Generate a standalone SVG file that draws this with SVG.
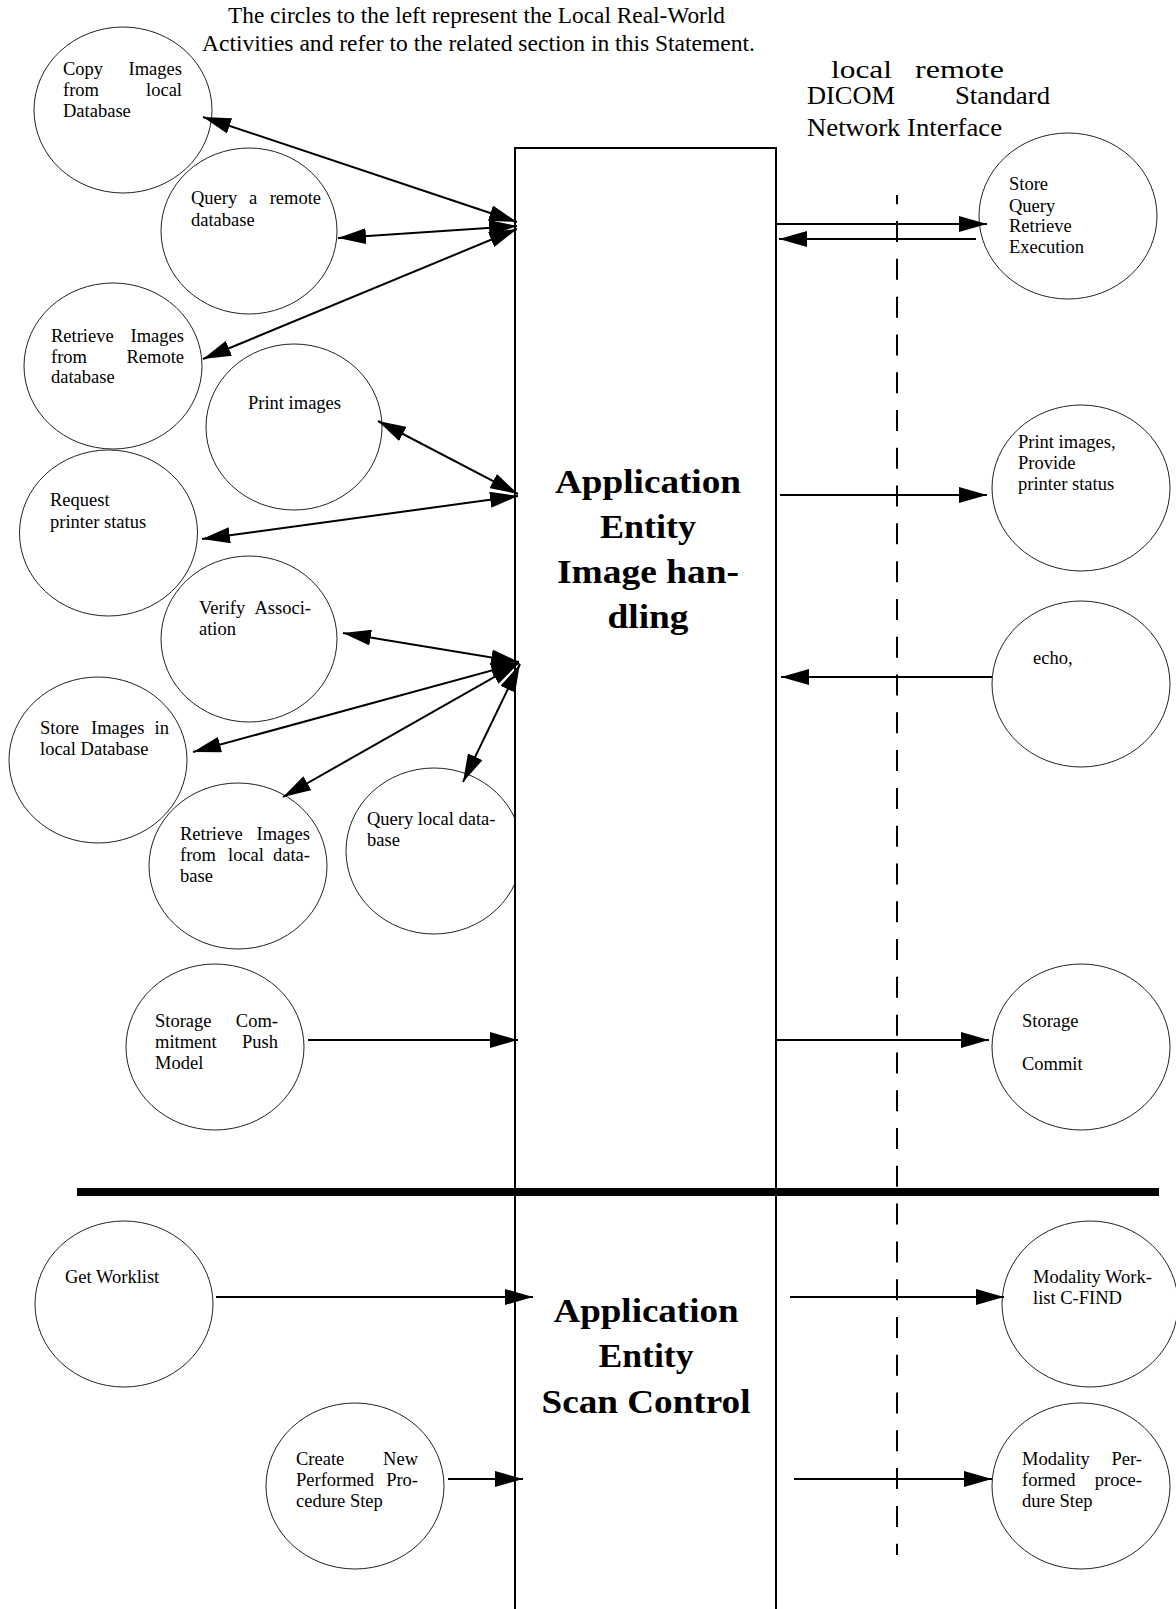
<svg xmlns="http://www.w3.org/2000/svg" width="1176" height="1609" viewBox="0 0 1176 1609">
<defs>
<marker id="ah" viewBox="0 0 28 16" refX="28" refY="8" markerWidth="28" markerHeight="16" markerUnits="userSpaceOnUse" orient="auto-start-reverse"><path d="M0,0 L28,8 L0,16 z" fill="#000"/></marker>
</defs>
<style>
.c{fill:none;stroke:#222;stroke-width:1}
.t{font-family:"Liberation Serif","Times New Roman",serif;font-size:18.5px;fill:#000}
.e{text-anchor:end}
.h{font-family:"Liberation Serif","Times New Roman",serif;font-size:23.5px;fill:#000}
.hb{font-family:"Liberation Serif","Times New Roman",serif;font-size:25px;fill:#000}
.b{font-family:"Liberation Serif","Times New Roman",serif;font-size:33px;font-weight:bold;fill:#000;text-anchor:middle}
.ln{stroke:#000;stroke-width:2;fill:none}
.one{marker-end:url(#ah)}
.bi{marker-start:url(#ah);marker-end:url(#ah)}
</style>
<rect width="1176" height="1609" fill="#fff"/>

<g id="caption">
<text class="h" x="228" y="23" textLength="497" lengthAdjust="spacingAndGlyphs">The circles to the left represent the Local Real-World</text>
<text class="h" x="202" y="51" textLength="553" lengthAdjust="spacingAndGlyphs">Activities and refer to the related section in this Statement.</text>
</g>
<g id="interface-label">
<text class="hb" x="831" y="78" font-size="28" textLength="61" lengthAdjust="spacingAndGlyphs">local</text>
<text class="hb" x="915" y="78" font-size="28" textLength="89" lengthAdjust="spacingAndGlyphs">remote</text>
<text class="hb" x="807" y="104" textLength="88" lengthAdjust="spacingAndGlyphs">DICOM</text>
<text class="hb" x="955" y="104" textLength="95" lengthAdjust="spacingAndGlyphs">Standard</text>
<text class="hb" x="807" y="136" textLength="195" lengthAdjust="spacingAndGlyphs">Network Interface</text>
</g>

<g id="n-copy"><ellipse class="c" cx="123" cy="110" rx="89" ry="83"/>
<text class="t" x="63" y="75">Copy</text><text class="t e" x="182" y="75">Images</text>
<text class="t" x="63" y="96">from</text><text class="t e" x="182" y="96">local</text>
<text class="t" x="63" y="117">Database</text></g>

<g id="n-query-remote"><ellipse class="c" cx="249" cy="231" rx="88" ry="83"/>
<text class="t" x="191" y="204">Query</text><text class="t" x="249" y="204">a</text><text class="t e" x="321" y="204">remote</text>
<text class="t" x="191" y="226">database</text></g>

<g id="n-retrieve-remote"><ellipse class="c" cx="113" cy="366" rx="89" ry="83"/>
<text class="t" x="51" y="342">Retrieve</text><text class="t e" x="184" y="342">Images</text>
<text class="t" x="51" y="363">from</text><text class="t e" x="184" y="363">Remote</text>
<text class="t" x="51" y="383">database</text></g>

<g id="n-print"><ellipse class="c" cx="294" cy="427" rx="88" ry="83"/>
<text class="t" x="248" y="409">Print images</text></g>

<g id="n-request-status"><ellipse class="c" cx="108.5" cy="533" rx="89" ry="83"/>
<text class="t" x="50" y="506">Request</text>
<text class="t" x="50" y="528">printer status</text></g>

<g id="n-verify"><ellipse class="c" cx="249" cy="639" rx="88" ry="83"/>
<text class="t" x="199" y="614">Verify</text><text class="t e" x="311" y="614">Associ-</text>
<text class="t" x="199" y="635">ation</text></g>

<g id="n-store-local"><ellipse class="c" cx="98" cy="760" rx="89" ry="83"/>
<text class="t" x="40" y="734">Store</text><text class="t" x="91" y="734">Images</text><text class="t e" x="169" y="734">in</text>
<text class="t" x="40" y="755">local Database</text></g>

<g id="n-retrieve-local"><ellipse class="c" cx="238" cy="866" rx="89" ry="83"/>
<text class="t" x="180" y="840">Retrieve</text><text class="t e" x="310" y="840">Images</text>
<text class="t" x="180" y="861">from</text><text class="t" x="228" y="861">local</text><text class="t e" x="310" y="861">data-</text>
<text class="t" x="180" y="882">base</text></g>

<g id="n-query-local"><ellipse class="c" cx="434" cy="851" rx="88" ry="83"/>
<text class="t" x="367" y="825">Query local data-</text>
<text class="t" x="367" y="846">base</text></g>

<g id="n-storage-push"><ellipse class="c" cx="215" cy="1047" rx="89" ry="83"/>
<text class="t" x="155" y="1027">Storage</text><text class="t e" x="278" y="1027">Com-</text>
<text class="t" x="155" y="1048">mitment</text><text class="t e" x="278" y="1048">Push</text>
<text class="t" x="155" y="1069">Model</text></g>

<g id="n-get-worklist"><ellipse class="c" cx="124" cy="1304" rx="89" ry="83"/>
<text class="t" x="65" y="1283">Get Worklist</text></g>

<g id="n-create-pps"><ellipse class="c" cx="355" cy="1486" rx="89" ry="83"/>
<text class="t" x="296" y="1465">Create</text><text class="t e" x="418" y="1465">New</text>
<text class="t" x="296" y="1486">Performed</text><text class="t e" x="418" y="1486">Pro-</text>
<text class="t" x="296" y="1507">cedure Step</text></g>

<g id="n-remote-sqr"><ellipse class="c" cx="1068" cy="216" rx="89" ry="83"/>
<text class="t" x="1009" y="190">Store</text>
<text class="t" x="1009" y="212">Query</text>
<text class="t" x="1009" y="232">Retrieve</text>
<text class="t" x="1009" y="253">Execution</text></g>

<g id="n-remote-print"><ellipse class="c" cx="1081" cy="488" rx="89" ry="83"/>
<text class="t" x="1018" y="448">Print images,</text>
<text class="t" x="1018" y="469">Provide</text>
<text class="t" x="1018" y="490">printer status</text></g>

<g id="n-remote-echo"><ellipse class="c" cx="1081" cy="684" rx="89" ry="83"/>
<text class="t" x="1033" y="664">echo,</text></g>

<g id="n-remote-commit"><ellipse class="c" cx="1081" cy="1047" rx="89" ry="83"/>
<text class="t" x="1022" y="1027">Storage</text>
<text class="t" x="1022" y="1070">Commit</text></g>

<g id="n-remote-mwl"><ellipse class="c" cx="1090" cy="1304" rx="88" ry="83"/>
<text class="t" x="1033" y="1283">Modality Work-</text>
<text class="t" x="1033" y="1304">list C-FIND</text></g>

<g id="n-remote-mpps"><ellipse class="c" cx="1081" cy="1486" rx="89" ry="83"/>
<text class="t" x="1022" y="1465">Modality</text><text class="t e" x="1142" y="1465">Per-</text>
<text class="t" x="1022" y="1486">formed</text><text class="t e" x="1142" y="1486">proce-</text>
<text class="t" x="1022" y="1507">dure Step</text></g>

<g id="ae-box">
<rect x="515" y="148" width="261" height="1500" fill="#fff" stroke="#000" stroke-width="2"/>
<text class="b" x="648" y="493" textLength="186" lengthAdjust="spacingAndGlyphs">Application</text>
<text class="b" x="648" y="538" textLength="96" lengthAdjust="spacingAndGlyphs">Entity</text>
<text class="b" x="648" y="583" textLength="182" lengthAdjust="spacingAndGlyphs">Image han-</text>
<text class="b" x="648" y="628" textLength="81" lengthAdjust="spacingAndGlyphs">dling</text>
<text class="b" x="646" y="1322" textLength="185" lengthAdjust="spacingAndGlyphs">Application</text>
<text class="b" x="646" y="1367" textLength="95" lengthAdjust="spacingAndGlyphs">Entity</text>
<text class="b" x="646" y="1413" textLength="209" lengthAdjust="spacingAndGlyphs">Scan Control</text>
</g>

<g id="boundary">
<line x1="897" y1="195" x2="897" y2="1555" stroke="#000" stroke-width="2" stroke-dasharray="21 16.79" stroke-dashoffset="11.74"/>
<line x1="77" y1="1192" x2="1159" y2="1192" stroke="#000" stroke-width="8"/>
</g>

<g id="connectors">
<path class="ln bi" d="M517,222 L203,117"/>
<path class="ln bi" d="M517,226 L338,238"/>
<path class="ln bi" d="M517,229 L203,359"/>
<path class="ln bi" d="M518,494 L378,421"/>
<path class="ln bi" d="M518,496 L202,539"/>
<path class="ln bi" d="M519,662 L343,633"/>
<path class="ln bi" d="M519,663 L193,752"/>
<path class="ln bi" d="M519,663 L283,797"/>
<path class="ln bi" d="M520,664 L463,782"/>
<path class="ln one" d="M777,224 L987,224"/>
<path class="ln one" d="M976,239 L779,239"/>
<path class="ln one" d="M780,495 L987,495"/>
<path class="ln one" d="M992,677 L781,677"/>
<path class="ln one" d="M308,1040 L518,1040"/>
<path class="ln one" d="M776,1040 L989,1040"/>
<path class="ln one" d="M216,1297 L533,1297"/>
<path class="ln one" d="M790,1297 L1004,1297"/>
<path class="ln one" d="M448,1479 L523,1479"/>
<path class="ln one" d="M794,1479 L992,1479"/>
</g>
</svg>
